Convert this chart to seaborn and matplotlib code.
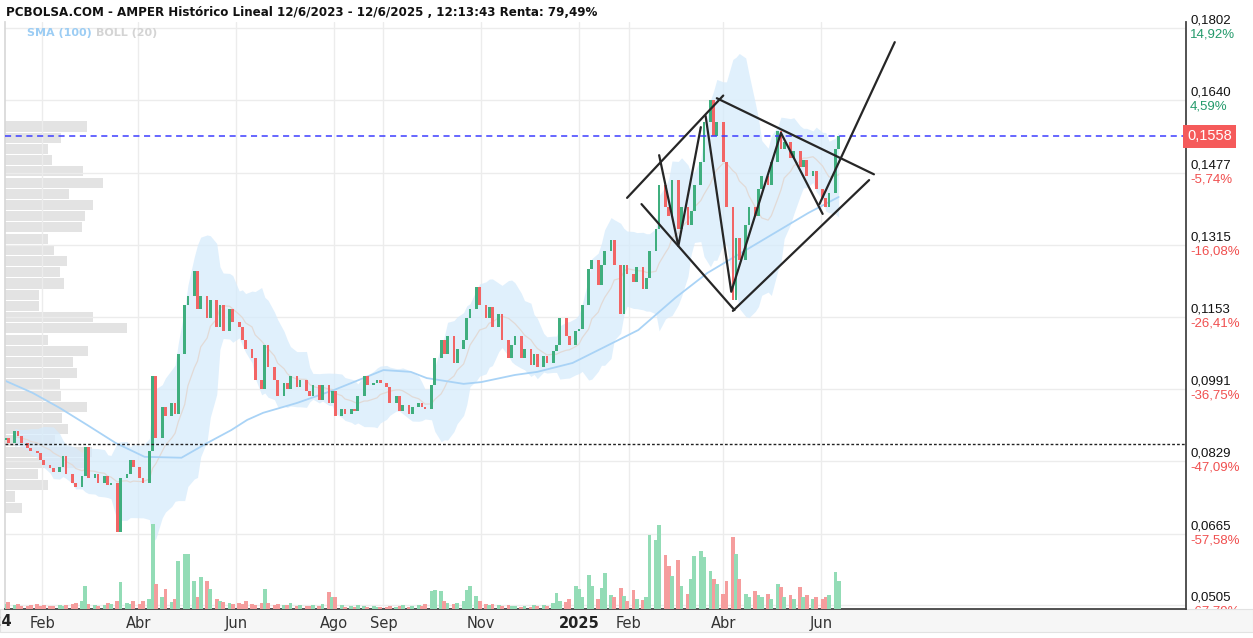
import numpy as np
import pandas as pd
import matplotlib
matplotlib.use("Agg")
import matplotlib.pyplot as plt
import matplotlib.transforms as mtransforms
from matplotlib.patches import Rectangle
import seaborn as sns

# closes, one bar every 2 sessions, grouped by month
jan24 = [0.0880, 0.0870, 0.0895, 0.0885, 0.0870, 0.0858, 0.0850, 0.0846, 0.0830]
feb24 = [0.0820, 0.0812, 0.0805, 0.0815, 0.0840, 0.0800, 0.0780, 0.0770, 0.0795, 0.0860]
mar24 = [0.0790, 0.0800, 0.0780, 0.0795, 0.0775, 0.0780, 0.0670, 0.0790, 0.0800, 0.0830, 0.0815]
apr24 = [0.0790, 0.0780, 0.0850, 0.1020, 0.0880, 0.0950, 0.0930, 0.0960, 0.0935, 0.1070, 0.1180]
may24 = [0.1200, 0.1255, 0.1170, 0.1200, 0.1150, 0.1190, 0.1130, 0.1180, 0.1120, 0.1170, 0.1140]
jun24 = [0.1130, 0.1100, 0.1080, 0.1060, 0.1010, 0.0990, 0.1090, 0.1040, 0.1010, 0.0975, 0.1005]
jul24 = [0.0990, 0.1020, 0.0995, 0.1010, 0.0985, 0.0975, 0.1000, 0.0965, 0.1000, 0.0960, 0.0985]
aug24 = [0.0930, 0.0945, 0.0935, 0.0945, 0.0940, 0.0975, 0.1020, 0.1000, 0.1005, 0.1010, 0.1005]
sep24 = [0.0995, 0.0960, 0.0975, 0.0940, 0.0955, 0.0935, 0.0950, 0.0960, 0.0950, 0.0945, 0.1000]
oct24 = [0.1060, 0.1100, 0.1070, 0.1110, 0.1050, 0.1080, 0.1100, 0.1150, 0.1170, 0.1220, 0.1180, 0.1150]
nov24 = [0.1175, 0.1130, 0.1160, 0.1100, 0.1060, 0.1090, 0.1110, 0.1060, 0.1080, 0.1045, 0.1070]
dec24 = [0.1040, 0.1065, 0.1050, 0.1075, 0.1090, 0.1150, 0.1110, 0.1090, 0.1120, 0.1125]
jan25 = [0.1180, 0.1260, 0.1280, 0.1225, 0.1270, 0.1300, 0.1325, 0.1270, 0.1160, 0.1270, 0.1250]
feb25 = [0.1230, 0.1265, 0.1215, 0.1240, 0.1300, 0.1350, 0.1450, 0.1400, 0.1380, 0.1460]
mar25 = [0.1350, 0.1400, 0.1360, 0.1390, 0.1450, 0.1500, 0.1590, 0.1640, 0.1560, 0.1590, 0.1500]
apr25 = [0.1400, 0.1190, 0.1330, 0.1280, 0.1360, 0.1400, 0.1380, 0.1440, 0.1470, 0.1450, 0.1500]
may25 = [0.1570, 0.1530, 0.1545, 0.1510, 0.1525, 0.1490, 0.1505, 0.1470, 0.1480, 0.1440]
jun25 = [0.1420, 0.1400, 0.1430, 0.1530, 0.1558]
first_open = 0.0875

vol_jan24 = [5, 7, 4, 5, 3, 3, 4, 5, 3]
vol_feb24 = [4, 3, 3, 4, 3, 4, 5, 6, 8, 23]
vol_mar24 = [5, 4, 3, 4, 6, 5, 8, 27, 6, 5, 8]
vol_apr24 = [5, 8, 10, 85, 25, 12, 20, 7, 10, 48, 55]
vol_may24 = [55, 28, 12, 32, 28, 20, 10, 8, 7, 6, 5]
vol_jun24 = [6, 5, 8, 5, 4, 6, 20, 6, 4, 5, 4]
vol_jul24 = [4, 6, 3, 4, 3, 3, 4, 3, 5, 17, 12]
vol_aug24 = [12, 4, 2, 3, 2, 4, 3, 2, 3, 2, 2]
vol_sep24 = [2, 3, 2, 3, 4, 2, 3, 4, 3, 5, 18]
vol_oct24 = [19, 18, 8, 6, 5, 6, 8, 19, 23, 13, 8, 5]
vol_nov24 = [4, 5, 4, 3, 4, 3, 3, 2, 3, 2, 4]
vol_dec24 = [3, 4, 3, 6, 16, 8, 7, 10, 23, 20]
vol_jan25 = [12, 34, 23, 10, 21, 36, 14, 12, 21, 13, 8]
vol_feb25 = [19, 10, 9, 12, 74, 69, 84, 54, 43, 33]
vol_mar25 = [49, 23, 15, 30, 53, 58, 52, 38, 30, 25, 15]
vol_apr25 = [28, 72, 55, 30, 15, 12, 18, 14, 12, 15, 10]
vol_may25 = [25, 22, 12, 14, 10, 22, 12, 14, 10, 12]
vol_jun25 = [10, 12, 14, 37, 28]

# SMA(100)
sma_dates = ["2024-01-09", "2024-01-26", "2024-02-12", "2024-02-29", "2024-03-18", "2024-04-05",
             "2024-04-28", "2024-05-14", "2024-05-29", "2024-06-08", "2024-06-18", "2024-07-09",
             "2024-08-01", "2024-09-01", "2024-09-18", "2024-09-28", "2024-10-21", "2024-11-01",
             "2024-11-22", "2024-12-06", "2024-12-28", "2025-01-17", "2025-02-07", "2025-03-02",
             "2025-03-22", "2025-04-12", "2025-05-03", "2025-05-24", "2025-06-12"]
sma_vals = [0.1009, 0.0982, 0.0948, 0.0910, 0.0869, 0.0838, 0.0836, 0.0869, 0.0898, 0.0921,
            0.0937, 0.0959, 0.0988, 0.1033, 0.1029, 0.1015, 0.1002, 0.1006, 0.1022, 0.1029,
            0.1049, 0.1085, 0.1123, 0.1195, 0.1251, 0.1296, 0.1341, 0.1386, 0.1422]

# volume by price (left profile), bottom bin to top bin
profile_vol = [17, 10, 43, 33, 79, 87, 50, 63, 57, 82, 56, 55, 72, 68, 83, 43, 122, 88,
               34, 34, 59, 55, 62, 49, 43, 77, 80, 88, 64, 98, 78, 47, 43, 56, 82]
profile_lo, profile_hi = 0.0711, 0.1593

# hand drawn lines (date, price)
chan_up_x = ["2025-01-31", "2025-04-01"]
chan_up_y = [0.1420, 0.1650]
chan_dn_x = ["2025-02-09", "2025-04-08"]
chan_dn_y = [0.1406, 0.1168]
top_x = ["2025-03-28", "2025-07-04"]
top_y = [0.1644, 0.1473]
bot_x = ["2025-04-07", "2025-07-01"]
bot_y = [0.1166, 0.1460]
zig1_x = ["2025-02-20", "2025-03-04", "2025-03-18"]
zig1_y = [0.1516, 0.1312, 0.1579]
zig2_x = ["2025-03-21", "2025-04-06", "2025-05-07", "2025-06-02"]
zig2_y = [0.1604, 0.1209, 0.1566, 0.1384]
break_x = ["2025-05-31", "2025-07-17"]
break_y = [0.1406, 0.1770]

last_price = 0.1558
support = 0.0867

yticks = [0.0505, 0.0665, 0.0829, 0.0991, 0.1153, 0.1315, 0.1477, 0.1640, 0.1802]
ytick_labels = ["0,0505", "0,0665", "0,0829", "0,0991", "0,1153", "0,1315", "0,1477", "0,1640", "0,1802"]
pct_labels = ["-67,79%", "-57,58%", "-47,09%", "-36,75%", "-26,41%", "-16,08%", "-5,74%", "4,59%", "14,92%"]

month_ticks = ["2024-02-01", "2024-04-01", "2024-06-01", "2024-08-01", "2024-09-01", "2024-11-01",
               "2025-01-01", "2025-02-01", "2025-04-01", "2025-06-01"]
month_labels = ["Feb", "Abr", "Jun", "Ago", "Sep", "Nov", "2025", "Feb", "Abr", "Jun"]

title = "PCBOLSA.COM - AMPER Histórico Lineal 12/6/2023 - 12/6/2025 , 12:13:43 Renta: 79,49%"

# ---------------------------------------------------------------
close = np.array(jan24 + feb24 + mar24 + apr24 + may24 + jun24 + jul24 + aug24 + sep24
                 + oct24 + nov24 + dec24 + jan25 + feb25 + mar25 + apr25 + may25 + jun25)
volume = np.array(vol_jan24 + vol_feb24 + vol_mar24 + vol_apr24 + vol_may24 + vol_jun24
                  + vol_jul24 + vol_aug24 + vol_sep24 + vol_oct24 + vol_nov24 + vol_dec24
                  + vol_jan25 + vol_feb25 + vol_mar25 + vol_apr25 + vol_may25 + vol_jun25)
opn = np.r_[first_open, close[:-1]]

sessions = pd.bdate_range("2024-01-01", "2025-06-12")
dates = sessions[::-2][::-1][-len(close):]

s = pd.Series(close)
mid = s.rolling(10, min_periods=3).mean()
sd = s.rolling(10, min_periods=3).std(ddof=0)
upper, lower = mid + 2 * sd, mid - 2 * sd

GREEN, RED = "#3fae7e", "#f26565"
VGREEN, VRED = "#93dcb6", "#f59d9d"
up_bar = close >= opn

sns.set_theme(style="white")
plt.rcParams["font.family"] = ["Liberation Sans", "DejaVu Sans"]

W, H = 1253, 638
fig = plt.figure(figsize=(W / 100, H / 100), dpi=100)
L, R, T, B = 5, 1186, 22, 609
ax = fig.add_axes([L / W, (H - B) / H, (R - L) / W, (B - T) / H])

# volume profile behind everything
ax_prof = ax.twiny()
ax_prof.set_zorder(ax.get_zorder() - 1)
ax.patch.set_visible(False)
edges = np.linspace(profile_lo, profile_hi, len(profile_vol) + 1)
step = edges[1] - edges[0]
ax_prof.barh(edges[:-1] + step / 2, profile_vol, height=step * 0.9, color="#e3e3e3", lw=0)
ax_prof.set_xlim(0, R - L)
ax_prof.axis("off")

# bollinger + sma
ax.fill_between(dates, lower, upper, color="#d6ebfc", alpha=0.75, lw=0, zorder=1)
sns.lineplot(x=dates, y=mid.values, ax=ax, color="#e2dad6", lw=0.9, zorder=2)
sns.lineplot(x=pd.to_datetime(sma_dates), y=sma_vals, ax=ax, color="#a9d3f6", lw=1.3, zorder=2)

# candles
ax.bar(dates, close - opn, bottom=opn, width=1.7, color=np.where(up_bar, GREEN, RED), lw=0, zorder=3)

# reference lines
ax.axhline(last_price, color="#3d3dff", lw=1.1, ls=(0, (4, 3)), zorder=4)
ax.axhline(support, color="#222222", lw=1.0, ls=(0, (2, 1.5)), zorder=4)

for xs, ys in [(chan_up_x, chan_up_y), (chan_dn_x, chan_dn_y), (top_x, top_y), (bot_x, bot_y),
               (zig1_x, zig1_y), (zig2_x, zig2_y), (break_x, break_y)]:
    ax.plot(pd.to_datetime(xs), ys, color="#262626", lw=1.6, solid_capstyle="round", zorder=5)

# volume
ax_vol = ax.twinx()
ax_vol.bar(dates, volume, width=2.4, color=np.where(up_bar, VGREEN, VRED), lw=0)
ax_vol.set_ylim(0, B - T)
ax_vol.axis("off")

# scales
x0 = pd.Timestamp("2024-02-01")
ax.set_xlim(x0 + pd.Timedelta(days=-23.1), x0 + pd.Timedelta(days=713.7))
ax.set_ylim(0.0496, 0.18153)
ax.set_xlabel("")
ax.set_ylabel("")

ax.set_yticks(yticks)
ax.tick_params(axis="y", length=0, labelleft=False, labelright=False)
ax.set_xticks(pd.to_datetime(month_ticks))
ax.set_xticklabels(month_labels)
ax.tick_params(axis="x", length=0, pad=5, labelcolor="#333333")
for lab in ax.get_xticklabels():
    lab.set_family("Liberation Sans Narrow")
    lab.set_fontsize(10.5)
    if lab.get_text() == "2025":
        lab.set_fontweight("bold")
        lab.set_color("#222222")
ax.grid(True, color="#ececec", lw=1)
ax.set_axisbelow(True)   # axis zorder 0.5

ax.spines["top"].set_visible(False)
ax.spines["left"].set_color("#d8d8d8")
ax.spines["right"].set_color("#444444")
ax.spines["bottom"].set_color("#444444")
ax.spines["right"].set_linewidth(1.3)
ax.spines["bottom"].set_linewidth(1.3)

# right side labels
trans = mtransforms.blended_transform_factory(ax.transAxes, ax.transData)
t_up = mtransforms.offset_copy(trans, fig=fig, y=1, units="dots")
t_dn = mtransforms.offset_copy(trans, fig=fig, y=-1, units="dots")
xlab = 1 + 4 / (R - L)
for v, lab, pct in zip(yticks, ytick_labels, pct_labels):
    ax.text(xlab, v, lab, transform=t_up, va="bottom", ha="left", fontsize=9.5,
            color="#111111", clip_on=False, zorder=0.4)
    ax.text(xlab, v, pct, transform=t_dn, va="top", ha="left", fontsize=9.5,
            color="#249a6b" if not pct.startswith("-") else "#f04f4f", clip_on=False, zorder=0.4)
ax.text(1 + 1 / (R - L), last_price, "0,1558", transform=trans, va="center", ha="left",
        fontsize=10.5, color="white", clip_on=False, zorder=6,
        bbox=dict(boxstyle="square,pad=0.3", fc="#f55a5a", ec="none"))

# bottom band for the date labels, under the tick labels
ax.add_patch(Rectangle((-L / (R - L), -23 / (B - T)), W / (R - L), 23 / (B - T),
                       transform=ax.transAxes, clip_on=False, fc="#f6f6f6", ec="#e2e2e2",
                       lw=0.8, zorder=0.45))
ax.text(pd.Timestamp("2024-01-01"), -13 / (B - T), "2024",
        transform=mtransforms.blended_transform_factory(ax.transData, ax.transAxes),
        ha="center", va="center", fontsize=10.5, fontweight="bold", color="#222222",
        family="Liberation Sans Narrow", clip_on=False, zorder=3)

# header
fig.text(6 / W, 1 - 13 / H, title, fontsize=8.6, fontweight="bold", color="#111111",
         va="center", ha="left", family="Liberation Sans Narrow")
fig.text(27 / W, 1 - 33 / H, "SMA (100)", fontsize=8, fontweight="bold", color="#9ccdf4",
         va="center", ha="left", family="Liberation Sans Narrow")
fig.text(96 / W, 1 - 33 / H, "BOLL (20)", fontsize=8, fontweight="bold", color="#d4d4d4",
         va="center", ha="left", family="Liberation Sans Narrow")

fig.savefig("out.png", dpi=100)
